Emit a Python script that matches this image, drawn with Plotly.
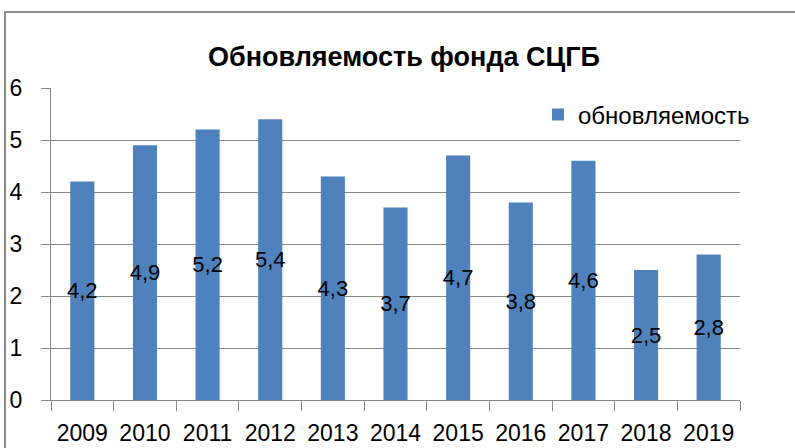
import plotly.graph_objects as go

years = ["2009", "2010", "2011", "2012", "2013", "2014", "2015", "2016", "2017", "2018", "2019"]
values = [4.2, 4.9, 5.2, 5.4, 4.3, 3.7, 4.7, 3.8, 4.6, 2.5, 2.8]
series_name = "обновляемость"
title_text = "Обновляемость фонда СЦГБ"
y_ticks = [0, 1, 2, 3, 4, 5, 6]

labels = [f"{v:.1f}".replace(".", ",") for v in values]

FONT = "Liberation Sans"
GRID = "#878787"

fig = go.Figure()
fig.add_trace(go.Bar(
    x=years, y=values, name=series_name,
    marker=dict(color="#4F81BD", line=dict(width=0)),
    text=labels, textposition="inside", insidetextanchor="middle",
    textangle=0, constraintext="none",
    textfont=dict(family=FONT, size=22, color="#000000"),
))

fig.update_layout(
    width=795, height=448,
    margin=dict(l=51, r=55, t=88, b=48, autoexpand=False),
    paper_bgcolor="white", plot_bgcolor="white",
    bargap=0.615,
    showlegend=True,
    title=dict(text=f"<b>{title_text}</b>", x=404/795, xanchor="center",
               y=1 - 57/448, yanchor="middle", automargin=False,
               font=dict(family=FONT, size=27, color="#000000")),
    legend=dict(x=(538-51)/689, y=(400-115)/312, xanchor="left", yanchor="middle",
                font=dict(family=FONT, size=24, color="#000000"),
                bgcolor="rgba(0,0,0,0)", itemwidth=30),
    font=dict(family=FONT, size=23, color="#000000"),
)
fig.update_xaxes(
    type="category", showline=True, linecolor=GRID, linewidth=1,
    ticks="outside", tickson="boundaries", ticklen=10, tickcolor=GRID,
    showgrid=False, tickfont=dict(family=FONT, size=23, color="#000000"),
    ticklabelstandoff=12, automargin=False,
)
fig.update_yaxes(
    range=[0, 6], tickvals=y_ticks, showline=True, linecolor=GRID, linewidth=1,
    ticks="outside", ticklen=9, tickcolor=GRID,
    showgrid=True, gridcolor=GRID, gridwidth=1, zeroline=False,
    tickfont=dict(family=FONT, size=23, color="#000000"),
    ticklabelstandoff=14, automargin=False,
)
fig.add_shape(type="rect", xref="paper", yref="paper",
              x0=(5-51)/689, x1=1.3, y0=-0.5, y1=(400-12)/312,
              line=dict(color="#8c8c8c", width=2), fillcolor="rgba(0,0,0,0)", layer="below")

fig.write_html("out.html", config={"displayModeBar": False},
               post_script="document.body.style.margin='0';document.body.style.overflow='hidden';")
